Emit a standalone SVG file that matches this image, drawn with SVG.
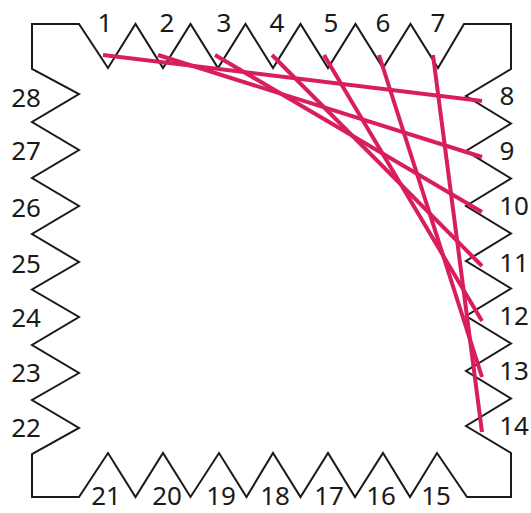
<svg xmlns="http://www.w3.org/2000/svg" width="531" height="513" viewBox="0 0 531 513">
<style>
.frame{fill:none;stroke:#1a1a1a;stroke-width:2;stroke-linejoin:miter}
.str{stroke:#d81e5b;stroke-width:4;fill:none}
.lbl{font-family:"Noto Sans","DejaVu Sans",sans-serif;font-size:26px;fill:#1a1a1a;text-anchor:middle}
</style>
<rect width="531" height="513" fill="#ffffff"/>
<g id="frame">
<path class="frame" d="M32,24 L79,24 L108,68 L135.5,24 L163,68 L190.5,24 L218,68 L245.5,24 L273,68 L300.5,24 L328,68 L355.5,24 L383,68 L410.5,24 L438,68 L464,24 L511,24 L511,69 L466,96 L511,123.5 L466,151 L511,178.5 L466,206 L511,233.5 L466,261 L511,288.5 L466,316 L511,343.5 L466,371 L511,398.5 L466,426 L511,453 L511,497 L467,497 L437,453 L410,497 L383,453 L355,497 L328,453 L300.5,497 L273,453 L246.5,497 L219,453 L190.5,497 L163,453 L135.5,497 L108,453 L79,497 L32,497 L32,454 L79,428 L32,400 L79,373 L32,345 L79,317 L32,289.5 L79,262 L32,234 L79,206 L32,178 L79,150 L32,122 L79,94 L32,69 Z"/>
</g>
<g id="strings">
<line class="str" x1="103" y1="55" x2="482" y2="101"/>
<line class="str" x1="158" y1="55" x2="482" y2="157"/>
<line class="str" x1="215" y1="55" x2="482" y2="212"/>
<line class="str" x1="272" y1="55" x2="482" y2="266"/>
<line class="str" x1="324" y1="55" x2="482" y2="321"/>
<line class="str" x1="379" y1="55" x2="482" y2="377"/>
<line class="str" x1="433" y1="55" x2="482" y2="432"/>
</g>
<g id="labels">
<text class="lbl" x="105" y="32">1</text>
<text class="lbl" x="167" y="32">2</text>
<text class="lbl" x="224" y="32">3</text>
<text class="lbl" x="277" y="32">4</text>
<text class="lbl" x="331" y="32">5</text>
<text class="lbl" x="383" y="32">6</text>
<text class="lbl" x="438" y="32">7</text>
<text class="lbl" x="507" y="105">8</text>
<text class="lbl" x="507" y="160">9</text>
<text class="lbl" x="514" y="215">10</text>
<text class="lbl" x="514" y="272">11</text>
<text class="lbl" x="514" y="325">12</text>
<text class="lbl" x="514" y="380">13</text>
<text class="lbl" x="514" y="435">14</text>
<text class="lbl" x="436" y="505">15</text>
<text class="lbl" x="381" y="505">16</text>
<text class="lbl" x="329" y="505">17</text>
<text class="lbl" x="275" y="505">18</text>
<text class="lbl" x="221" y="505">19</text>
<text class="lbl" x="167" y="505">20</text>
<text class="lbl" x="106" y="505">21</text>
<text class="lbl" x="26" y="437">22</text>
<text class="lbl" x="26" y="382">23</text>
<text class="lbl" x="26" y="327">24</text>
<text class="lbl" x="26" y="273">25</text>
<text class="lbl" x="26" y="217">26</text>
<text class="lbl" x="26" y="160">27</text>
<text class="lbl" x="26" y="107">28</text>
</g>
</svg>
